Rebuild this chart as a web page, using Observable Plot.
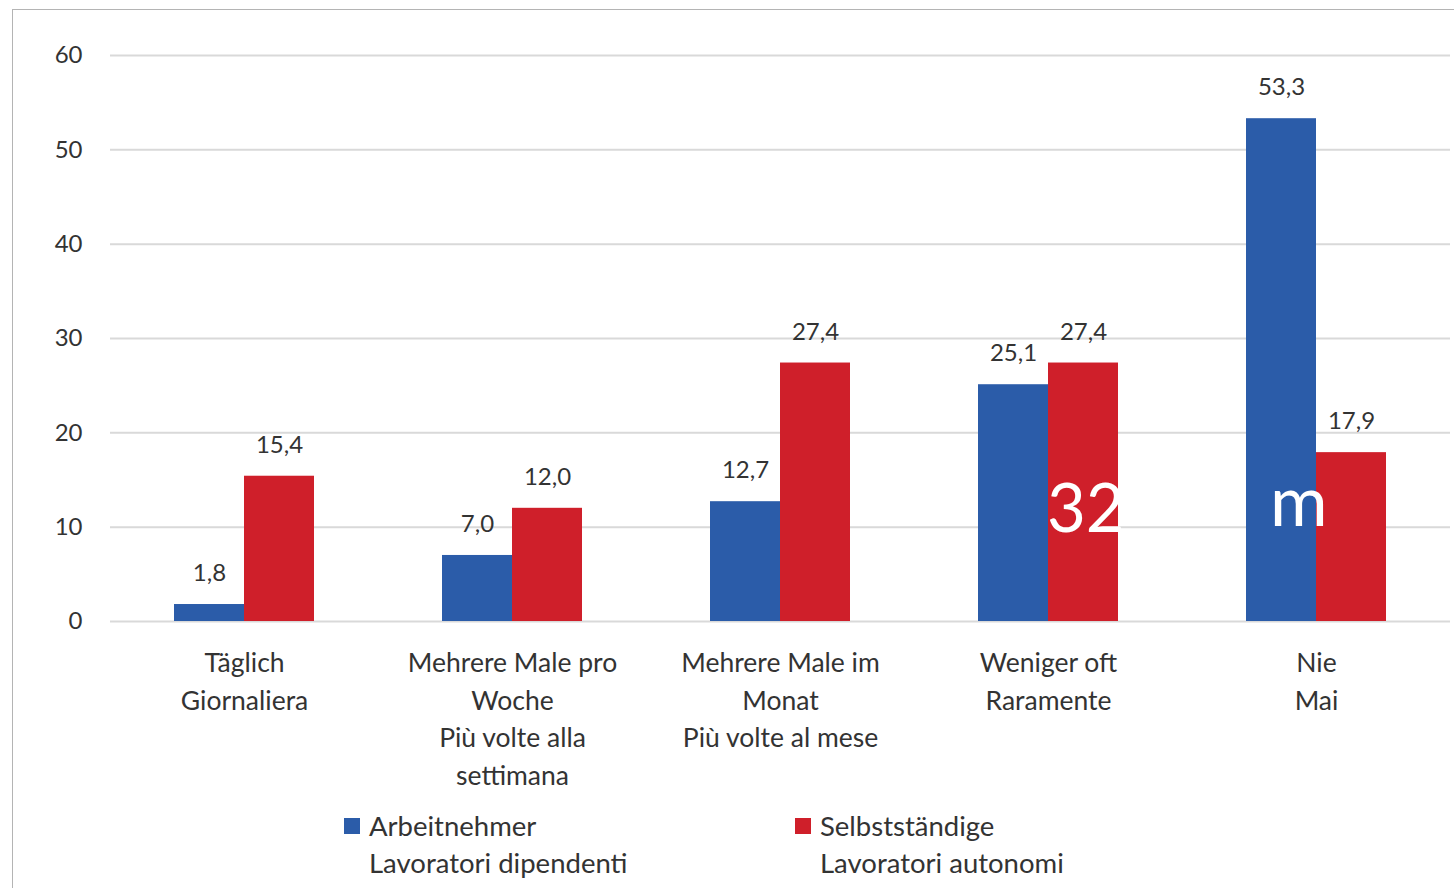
<!DOCTYPE html>
<html>
<head>
<meta charset="utf-8">
<script src="https://cdn.jsdelivr.net/npm/d3@7"></script>
<script src="https://cdn.jsdelivr.net/npm/@observablehq/plot@0.6"></script>
<style>
  html, body { margin: 0; padding: 0; background: #fff; }
  body { width: 1454px; height: 888px; position: relative; overflow: hidden; font-family: Lato, "Open Sans", sans-serif; }
  #frame { position: absolute; left: 12px; top: 9px; width: 1500px; height: 900px; border-left: 1.5px solid #b4b4b4; border-top: 1.5px solid #b4b4b4; }
  #chart { position: absolute; left: 0; top: 0; }
  .leg { position: absolute; font-size: 27.5px; line-height: 37px; color: #333; }
  .leg .sw { position: absolute; left: -25px; top: 11px; width: 16px; height: 16px; }
</style>
</head>
<body>
<div id="frame"></div>
<div id="chart"></div>
<div class="leg" id="leg0" style="left:369px; top:807px;"><span class="sw"></span><span class="t"></span></div>
<div class="leg" id="leg1" style="left:820px; top:807px;"><span class="sw"></span><span class="t"></span></div>
<div style="position:absolute; color:#fff; font-size:67px; line-height:1; left:1047px; top:473px; font-family: Lato, sans-serif;">32</div>
<div style="position:absolute; color:#fff; font-size:70px; line-height:1; left:1270px; top:464px; font-family: Lato, sans-serif;">m</div>
<script>
const categories = [
  "Täglich\nGiornaliera",
  "Mehrere Male pro\nWoche\nPiù volte alla\nsettimana",
  "Mehrere Male im\nMonat\nPiù volte al mese",
  "Weniger oft\nRaramente",
  "Nie\nMai"
];
const seriesNames = ["Arbeitnehmer\nLavoratori dipendenti", "Selbstständige\nLavoratori autonomi"];
const arbeitnehmer = [1.8, 7.0, 12.7, 25.1, 53.3];
const selbststaendige = [15.4, 12.0, 27.4, 27.4, 17.9];
const colors = ["#2b5ca9", "#cf1f2a"];
const yTicks = [0, 10, 20, 30, 40, 50, 60];

const data = [];
categories.forEach((c, i) => {
  data.push({cat: c, series: seriesNames[0], value: arbeitnehmer[i]});
  data.push({cat: c, series: seriesNames[1], value: selbststaendige[i]});
});
const fmt = v => v.toFixed(1).replace(".", ",");

const chart = Plot.plot({
  width: 1454,
  height: 801,
  marginLeft: 110,
  marginRight: 4,
  marginTop: 55,
  marginBottom: 180,
  style: {fontFamily: "Lato, 'Open Sans', sans-serif", color: "#333", background: "transparent"},
  fx: {domain: categories, padding: 0, label: null},
  x: {domain: seriesNames, paddingInner: 0, paddingOuter: 0.914, axis: null},
  y: {domain: [0, 60], label: null},
  color: {domain: seriesNames, range: colors},
  marks: [
    Plot.gridY(yTicks, {stroke: "#d9d9d9", strokeOpacity: 1, strokeWidth: 2}),
    Plot.axisY(yTicks, {tickSize: 0, tickPadding: 28, fontSize: 24, fill: "#333", label: null}),
    Plot.axisFx({anchor: "bottom", tickSize: 0, tickPadding: 24, fontSize: 26.5, lineHeight: 1.42, fill: "#333", label: null}),
    Plot.barY(data, {fx: "cat", x: "series", y: "value", fill: "series"}),
    Plot.text(data, {fx: "cat", x: "series", y: "value", text: d => fmt(d.value), dy: -31, fontSize: 24, fill: "#333"})
  ]
});
document.getElementById("chart").appendChild(chart);

[0, 1].forEach(i => {
  const el = document.getElementById("leg" + i);
  el.querySelector(".sw").style.background = colors[i];
  el.querySelector(".t").innerHTML = seriesNames[i].replace("\n", "<br>");
});
</script>
</body>
</html>
